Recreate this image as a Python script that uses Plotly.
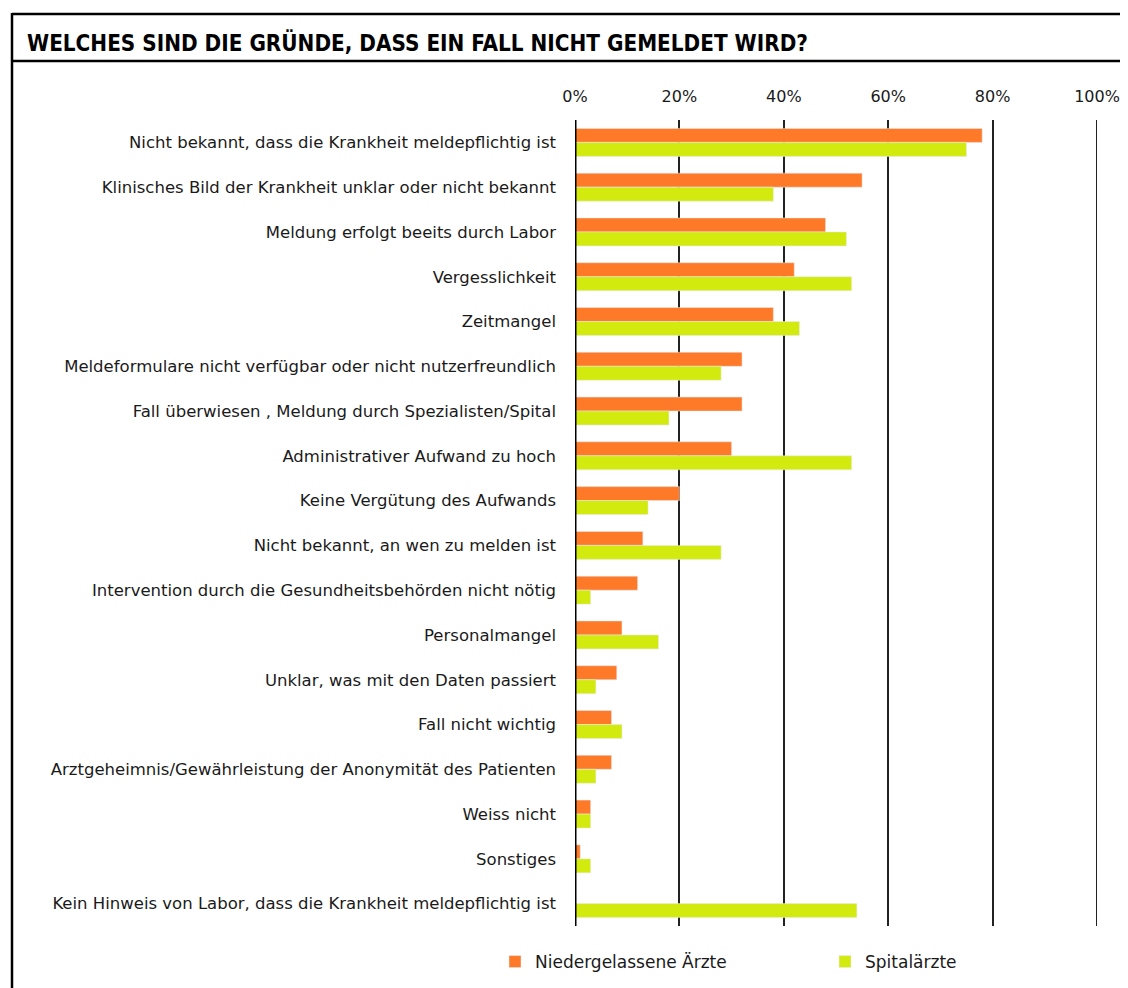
import plotly.graph_objects as go

categories = [
    "Nicht bekannt, dass die Krankheit meldepflichtig ist",
    "Klinisches Bild der Krankheit unklar oder nicht bekannt",
    "Meldung erfolgt beeits durch Labor",
    "Vergesslichkeit",
    "Zeitmangel",
    "Meldeformulare nicht verfügbar oder nicht nutzerfreundlich",
    "Fall überwiesen , Meldung durch Spezialisten/Spital",
    "Administrativer Aufwand zu hoch",
    "Keine Vergütung des Aufwands",
    "Nicht bekannt, an wen zu melden ist",
    "Intervention durch die Gesundheitsbehörden nicht nötig",
    "Personalmangel",
    "Unklar, was mit den Daten passiert",
    "Fall nicht wichtig",
    "Arztgeheimnis/Gewährleistung der Anonymität des Patienten",
    "Weiss nicht",
    "Sonstiges",
    "Kein Hinweis von Labor, dass die Krankheit meldepflichtig ist",
]
niedergelassene = [0.78, 0.55, 0.48, 0.42, 0.38, 0.32, 0.32, 0.30, 0.20, 0.13,
                   0.12, 0.09, 0.08, 0.07, 0.07, 0.03, 0.01, 0.0]
spital = [0.75, 0.38, 0.52, 0.53, 0.43, 0.28, 0.18, 0.53, 0.14, 0.28,
          0.03, 0.16, 0.04, 0.09, 0.04, 0.03, 0.03, 0.54]
series_names = ["Niedergelassene Ärzte", "Spitalärzte"]
tick_vals = [0, 0.2, 0.4, 0.6, 0.8, 1.0]
tick_text = ["0%", "20%", "40%", "60%", "80%", "100%"]

ORANGE = "#FE7A28"
GREEN = "#D3EA0E"
FONT = "DejaVu Sans"
FONT_C = "DejaVu Sans Condensed"

OFF = 8  # page body margin
W, H = 1128 - OFF, 988 - OFF
PL, PR, PT, PB = 575, 1097, 120, 926
L, T = PL - OFF, PT - OFF
R = W - (PR - OFF)
B = H - (PB - OFF)
pw, ph = W - L - R, H - T - B

def px_x(px):
    return (px - OFF - L) / pw

def px_y(py):
    return (H - B - (py - OFF)) / ph

fig = go.Figure()
fig.add_trace(go.Bar(y=categories, x=niedergelassene, name=series_names[0],
                     orientation="h", marker_color=ORANGE))
fig.add_trace(go.Bar(y=categories, x=spital, name=series_names[1],
                     orientation="h", marker_color=GREEN))

fig.update_layout(
    width=W, height=H,
    margin=dict(l=L, r=R, t=T, b=B, autoexpand=False),
    paper_bgcolor="white", plot_bgcolor="white",
    barmode="group", bargap=0.375, bargroupgap=0,
    font=dict(family=FONT, size=16, color="#1a1a1a"),
    xaxis=dict(range=[0, 1], side="top", tickvals=tick_vals, ticktext=tick_text,
               showgrid=True, gridcolor="#222222", gridwidth=2,
               zeroline=False, showline=False, ticks="",
               ticklabelstandoff=14, tickfont=dict(size=16, family=FONT)),
    yaxis=dict(autorange="reversed", showgrid=False, ticks="",
               ticklabelstandoff=18, tickfont=dict(size=16.5, family=FONT)),
    legend=dict(orientation="h", x=px_x(495), y=px_y(962), xanchor="left",
                yanchor="middle", entrywidth=285, entrywidthmode="pixels",
                font=dict(size=17, family=FONT), itemwidth=30),
    showlegend=True,
)

fig.add_shape(type="line", xref="x", yref="paper", x0=0, x1=0, y0=0, y1=1,
              line=dict(color="black", width=3))
fig.add_shape(type="line", xref="x", yref="paper", x0=1, x1=1, y0=0, y1=1,
              line=dict(color="#222222", width=2))

fig.add_shape(type="line", xref="paper", yref="paper",
              x0=px_x(12), x1=px_x(1130), y0=px_y(14), y1=px_y(14),
              line=dict(color="black", width=2.5))
fig.add_shape(type="line", xref="paper", yref="paper",
              x0=px_x(12), x1=px_x(1130), y0=px_y(61), y1=px_y(61),
              line=dict(color="black", width=2.5))
fig.add_shape(type="line", xref="paper", yref="paper",
              x0=px_x(12), x1=px_x(12), y0=px_y(13), y1=px_y(990),
              line=dict(color="black", width=2.5))

fig.add_annotation(xref="paper", yref="paper", x=px_x(25), y=px_y(42),
                   xanchor="left", yanchor="middle", showarrow=False,
                   text="<b>WELCHES SIND DIE GRÜNDE, DASS EIN FALL NICHT GEMELDET WIRD?</b>",
                   font=dict(family=FONT_C, size=22.3, color="black"))

fig.write_html("out.html")
